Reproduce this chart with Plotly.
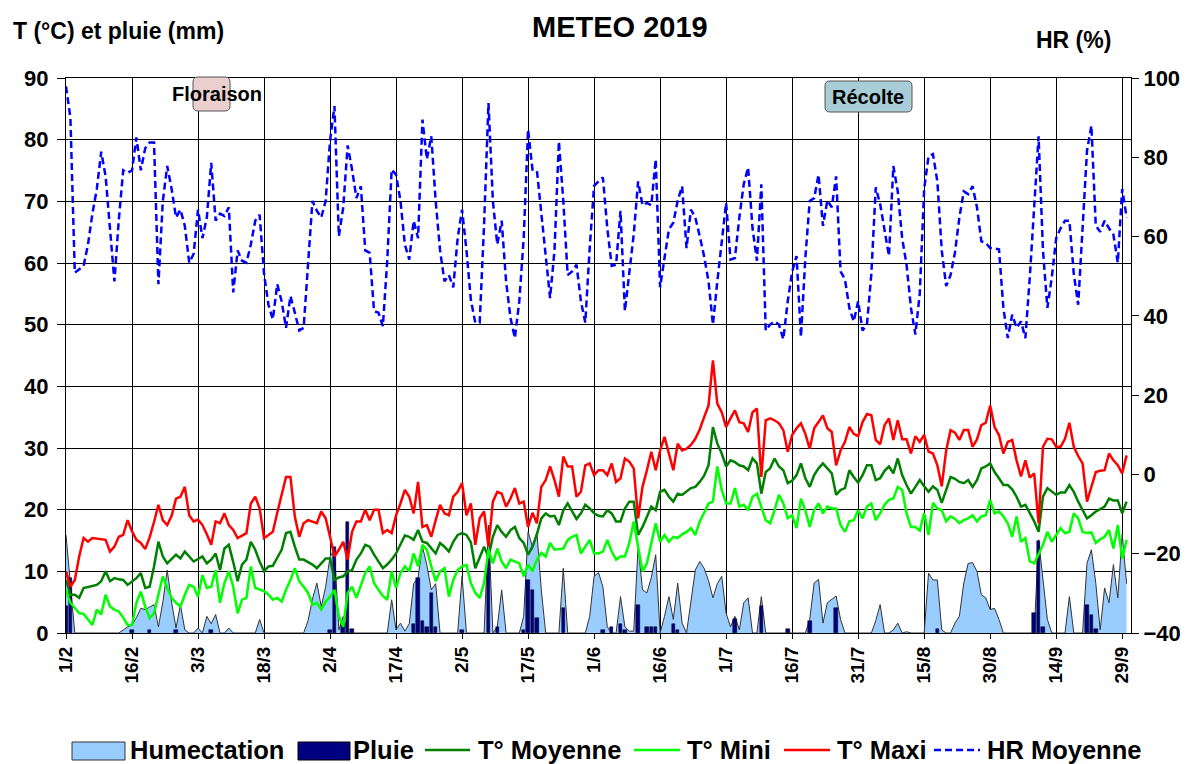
import pandas as pd
import plotly.graph_objects as go

# ---------------- DATA (daily, 1 Feb 2019 -> 30 Sep 2019) ----------------
start_date = "2019-02-01"
n_days = 242

hr_moy = [97.9, 90, 50.9, 51.8, 52.6, 58, 65.8, 72, 81.4, 75.2,
          62.7, 48.7, 64.3, 76.7, 76.1, 76.7, 85, 76.7, 82.3, 83.7,
          83.7, 48, 69, 77.8, 72, 64.8, 66.8, 62.7, 53.4, 55.6,
          66.8, 59.6, 64.8, 78.6, 64, 65.8, 65.2, 67.4, 45.9, 56.5,
          53.9, 53.4, 58, 64, 65.5, 50.6, 42.8, 39.1, 48, 43.7,
          37, 45, 40.8, 36.3, 37, 54, 69, 66.5, 64.8, 69,
          84.2, 92.9, 60.1, 67.4, 83, 76.9, 69.7, 72.7, 56.5, 55.9,
          41.2, 40.8, 37.4, 54, 76.9, 75.6, 69, 58, 54.2, 64,
          59.6, 89.5, 79.5, 85.3, 69, 56.5, 48.7, 50.3, 47.2, 59.6,
          66.8, 56.5, 44, 38.3, 38.3, 63, 93.7, 69, 58, 64,
          48.7, 39.5, 34.4, 43.7, 59.6, 87, 76.9, 76.7, 65.8, 55,
          44.5, 56.5, 84, 69, 50.3, 51.2, 52.9, 43.7, 38.3, 57.1,
          72.8, 73.9, 74.9, 62.1, 52.6, 52.9, 66.5, 41.2, 50.6, 60.5,
          73.9, 67.9, 68.5, 67.9, 79.5, 47.2, 54.6, 61.8, 63.5, 69.1,
          72.7, 57.1, 66.8, 64.8, 60.1, 55, 48.7, 37.8, 48.7, 58.8,
          68.5, 54.2, 54.6, 64.8, 73.2, 77.4, 62.1, 53.9, 73.2, 36.3,
          37.8, 38.6, 37.8, 34.1, 43.7, 51.1, 55.1, 34.7, 54.6, 69,
          69.7, 75.6, 62.7, 69.1, 67.4, 75.2, 51.2, 49.2, 42, 38.6,
          43.7, 36.3, 37.8, 50.6, 72.4, 68.2, 61.2, 55.1, 77.8, 71.4,
          59.6, 52.9, 42, 35.3, 45.6, 72, 80.3, 80.8, 73.9, 56.5,
          47.5, 50.3, 56, 64.8, 71.4, 70.7, 72.7, 67.4, 58.8, 58.4,
          57.1, 57, 56.8, 42, 34.4, 40.3, 37, 38.6, 34.4, 49.7,
          67.4, 85.3, 56.5, 42, 49.7, 59.6, 62.1, 64, 64, 50.6,
          42.8, 63, 81.6, 88, 62.7, 61.2, 64, 62.1, 60.5, 53.4,
          72, 64.8]

t_maxi = [10, 7.5, 8.6, 12.4, 15.4, 14.8, 15.4, 15.3, 15.2, 15.1,
          13.2, 14, 15.6, 15.9, 18.3, 16.5, 15.1, 14.6, 13.6, 15.5,
          18, 20.8, 18.3, 17.5, 19, 21.8, 22.1, 23.7, 19.1, 18.1,
          18.4, 17.5, 16, 14.3, 18.1, 17.8, 19.4, 17.5, 16.7, 15.4,
          15.8, 16.2, 21, 22.1, 20.2, 15.4, 15.9, 16.4, 19.5, 22.5,
          25.3, 25.3, 18.9, 15.6, 17.8, 18.3, 18, 17.8, 19.7, 18.6,
          15.6, 12.4, 13.5, 14.8, 11.9, 16.4, 18.1, 18.1, 20, 18.3,
          20, 20, 16.2, 16.7, 16.2, 19.1, 21, 23.2, 22.1, 19.4,
          24.5, 17.2, 17.5, 15.6, 18.3, 20.8, 19.4, 19.1, 22.1, 22.9,
          24.3, 19.1, 21, 14.3, 18.6, 19.7, 14, 21.3, 22.9, 22.6,
          20.5, 21.8, 23.5, 21, 21.3, 17.2, 19.5, 17.8, 23.7, 24.8,
          27, 24.8, 22.1, 28.6, 27, 27, 22.1, 22.9, 27.2, 27.5,
          25.6, 26.4, 26.4, 25.6, 27.5, 24.5, 25.1, 28.3, 27.8, 26.7,
          18.6, 23.7, 26.4, 29.4, 26.4, 29.6, 31.8, 29.1, 26.4, 30.7,
          29.6, 29.9, 30.5, 31.5, 33, 35, 36.9, 44.2, 37.2, 35.8,
          33.4, 34.8, 36.1, 34.2, 34, 32.6, 35.8, 36.4, 25.3, 34.5,
          34.8, 34.5, 34, 32.9, 29.4, 32.1, 33.2, 34, 32.3, 29.9,
          33.2, 34.2, 35.3, 33.2, 32.6, 27.2, 29.6, 31, 33.4, 32.3,
          31.9, 34.2, 35.5, 35.3, 31.3, 30.6, 33.7, 34.8, 31.3, 34.5,
          31.4, 31.4, 29.1, 31.9, 31, 32.1, 29.4, 29.1, 27.2, 23.8,
          29.6, 32.9, 32.5, 31.3, 32.9, 32.9, 30.2, 31.4, 33.7, 34.1,
          36.9, 33.4, 32.1, 29.1, 31, 31.3, 28, 25.4, 28, 25.2,
          25.9, 17.8, 30.2, 31.5, 31.4, 30.2, 30.2, 31.5, 34.1, 30.2,
          28.7, 27.5, 21.3, 23.7, 26.1, 26.3, 26.4, 29.1, 28, 27.2,
          25.9, 28.8]

t_moyenne = [8.6, 6.2, 6.2, 5.7, 7.3, 7.5, 7.6, 7.8, 8.4, 10,
             8.4, 8.9, 8.7, 8.6, 7.8, 8.3, 8.9, 9.7, 7.3, 7.5,
             10.8, 14.8, 12.4, 11.3, 12, 12.7, 12.1, 13.2, 12.4, 11.6,
             12, 12.4, 11.3, 11.9, 12.9, 10.2, 13.7, 14.3, 11.5, 8.4,
             11.1, 11.9, 14.8, 13.5, 11.6, 10, 10.8, 10.9, 12.2, 13.5,
             16.2, 16.4, 14, 11.9, 11.9, 11.5, 11.1, 10.5, 11.3, 12.1,
             12.1, 8.6, 9, 9.2, 10, 10.2, 11.9, 12.9, 14.3, 14,
             12.7, 11.5, 10.5, 11.1, 11.9, 12.9, 14.3, 15.8, 15.6, 15.1,
             16.7, 14.8, 14.6, 13.7, 12.9, 14.6, 14, 13.2, 14.8, 15.9,
             16.2, 15.9, 14.7, 10.5, 12.4, 14, 12.4, 15.6, 17.5, 16.4,
             15.6, 16.7, 17.2, 15.4, 14.6, 12.7, 14, 16, 18.6, 19.4,
             18.9, 19, 17.5, 19.9, 21, 19.8, 18.5, 19.4, 20.8, 20.2,
             19.4, 19, 18.9, 19.9, 19.4, 18.1, 18.1, 20.2, 21.3, 21.3,
             15.9, 17.2, 18.9, 20.5, 19.9, 22.9, 23.2, 22.1, 21.3, 22.6,
             22.4, 22.9, 23.5, 23.7, 24.5, 25.5, 27.2, 33.4, 30.7, 29.1,
             27, 28, 27.7, 27.2, 27, 26.4, 28.3, 27.5, 22.6, 26.1,
             26.7, 28.3, 27, 26.4, 24.3, 24.7, 25.6, 27.5, 25.1, 23.7,
             25.6, 26.7, 27.5, 26.7, 25.9, 22.4, 23.2, 23.5, 26.4, 25.3,
             24.4, 25.6, 27.2, 27.2, 24.8, 25.1, 26.3, 27, 25.9, 28.3,
             25.6, 24, 22.6, 23.7, 24.8, 23.8, 22.9, 23.8, 23.2, 21.1,
             23.2, 25.3, 25, 24.5, 24.3, 24.8, 23.7, 24.8, 26.7, 27,
             27.5, 26.1, 25.1, 24, 24, 23.3, 22.1, 20.5, 20.8, 19.4,
             18.1, 16.4, 22.1, 23.5, 22.9, 22.4, 22.8, 22.8, 24, 22.9,
             21.3, 20, 18.6, 19.1, 19.7, 20.1, 20.5, 21.8, 21.5, 21.5,
             19.4, 21.3]

t_mini = [7, 4.9, 4.1, 3.2, 3.1, 2.2, 1.3, 3.8, 3, 6.2,
          4.3, 3.8, 3.5, 2.5, 1.3, 1.3, 4.9, 6.7, 4.3, 2.4,
          3.2, 6.2, 9.2, 7.3, 5.7, 4.9, 4.3, 6.2, 7.8, 7.5,
          5.9, 9.4, 7.3, 7.5, 10.2, 4.9, 8.1, 10, 7.5, 3.2,
          5.4, 5.7, 10.8, 7.3, 7, 6.8, 6.2, 5.4, 5.7, 5.1,
          7, 8.6, 10.5, 8.4, 7.5, 6.5, 4.6, 4.9, 3.8, 5.1,
          5.9, 7, 2.7, 1, 6.5, 7.5, 5.7, 7.8, 9.7, 10.8,
          8.1, 7, 6, 5.4, 10, 7.3, 9.7, 10.8, 10, 12.9,
          10.8, 14.3, 13.5, 10.8, 8.4, 10, 10.5, 5.9, 8.6, 10.2,
          10.8, 11, 8.1, 6.5, 5.7, 8.1, 13.5, 11.3, 13.7, 11.6,
          10.5, 11.9, 11.6, 11.3, 9.2, 11.1, 10, 11.9, 13, 12.4,
          14.6, 13.5, 13.6, 13.7, 15.1, 15.6, 15.9, 12.9, 14, 15.1,
          12.9, 12.9, 13.2, 15.1, 13.2, 11.9, 12.4, 12.4, 14.6, 18.1,
          14, 10, 11.3, 14.6, 17.8, 14.8, 15.9, 14.8, 15.6, 15.4,
          16, 16.4, 17, 15.9, 18.1, 19.5, 21, 21.3, 27, 23.2,
          21, 21, 23.5, 20.5, 20.8, 19.9, 22.1, 22.6, 20.5, 18.3,
          17.8, 19.9, 22.4, 21, 18.6, 19.1, 17, 21.8, 19.9, 17.2,
          19.9, 21, 19.4, 20.5, 20.2, 20.2, 17.5, 16.4, 18.1, 18.3,
          19.9, 18.6, 20.5, 21, 18.3, 19.4, 20.8, 21.6, 21.8, 23.7,
          23.2, 19.4, 17.2, 17.2, 16.6, 19.4, 15.9, 21.1, 20.2, 19.9,
          18.1, 18.9, 18.5, 17.8, 18.3, 18.6, 19.1, 18.1, 18.9, 19.1,
          21.6, 19.4, 19.7, 18.9, 17.8, 15.6, 18.9, 14.8, 15.4, 11.6,
          11.3, 12.9, 14.3, 16.4, 14.8, 15.9, 17, 16.2, 16.4, 19.4,
          18.6, 16.4, 16.2, 16.3, 14.6, 15.2, 15.6, 16.7, 13.7, 17.5,
          12.1, 15.1]

humectation = [15.9, 8, 0, 0, 0, 0, 0, 0, 0, 0,
               0, 0, 0, 0.5, 1, 1.3, 2.5, 4, 3.8, 4.2,
               4.6, 1, 5, 10.2, 5, 0.8, 4.6, 0.5, 0, 0,
               0.8, 0, 2.7, 1.5, 3, 0, 0, 0.8, 0, 0,
               0, 0, 0, 0, 2.2, 0, 0, 0, 0, 0,
               0, 0, 0, 0, 0, 2, 5.5, 8.1, 4.3, 7.5,
               12.4, 13.5, 0.5, 2.7, 0, 0, 0, 0, 0, 0,
               0, 0, 0, 0, 5.4, 0.5, 1.6, 0.3, 1.5, 8,
               9, 14, 11, 7, 8, 0, 0, 0, 0, 0,
               9.2, 0, 0, 0, 0, 0, 17.5, 0, 1, 7,
               0, 0, 0, 0, 2.7, 16.4, 14, 16.4, 7, 0,
               0, 0, 0, 10.5, 0, 0, 0, 0, 0, 2.7,
               9.2, 9.8, 7.5, 1, 0, 0, 5.9, 1, 0.3, 0.3,
               14, 7, 6.5, 9, 12.7, 0, 2.7, 5.9, 2.2, 8.1,
               1.6, 0, 4.9, 10.2, 11.6, 10.5, 8.5, 5.7, 8, 9.2,
               3.2, 1, 2.7, 0.5, 4.9, 5.7, 0, 0, 5.9, 0,
               0, 0, 0, 0, 0, 0, 0, 0, 0, 2.2,
               8.1, 8.7, 1.6, 4.9, 5.4, 6, 2.2, 0, 0, 0,
               0, 0, 0, 0, 2, 4.6, 0, 0, 0.5, 1.6,
               0, 0.2, 0, 0, 0, 0, 9.7, 8.6, 8.6, 0.5,
               0, 0, 1.6, 2.7, 8.1, 11.3, 11.4, 10, 6.2, 5.7,
               3.8, 4, 2.2, 0, 0, 0, 0, 0, 0, 0,
               0, 15.1, 8.1, 2.2, 0, 0, 0, 0, 5.9, 0,
               0, 0, 11.3, 13.5, 8.1, 0.5, 7.3, 4.9, 11.1, 5.7,
               16, 8]

# rain (mm): only days with rain, as (day index from 1 Feb, mm)
pluie_jour = [0, 1, 15, 19, 25, 33, 60, 61, 63, 64, 65, 79, 80, 81, 82, 83, 84,
              90, 96, 98, 104, 105, 106, 107, 113, 122, 124, 126, 127, 130,
              132, 133, 134, 138, 139, 152, 158, 164, 169, 175, 198,
              220, 221, 222, 232, 233, 234]
pluie_mm = [4.3, 8.9, 0.5, 0.5, 0.5, 0.5, 0.5, 14, 1.6, 18, 0.6, 1.5, 9, 2, 1, 6.5, 1,
            0.5, 12, 1, 0.5, 8.6, 7, 2.4, 4, 0.5, 1, 1.5, 0.5, 4.6,
            1, 1, 1, 1.5, 0.5, 2.2, 4.3, 0.6, 2, 4, 0.6,
            3.2, 15, 1, 4.6, 3, 0.6]

tick_dates = ["2019-02-01", "2019-02-16", "2019-03-03", "2019-03-18", "2019-04-02",
              "2019-04-17", "2019-05-02", "2019-05-17", "2019-06-01", "2019-06-16",
              "2019-07-01", "2019-07-16", "2019-07-31", "2019-08-15", "2019-08-30",
              "2019-09-14", "2019-09-29"]
tick_labels = ["1/2", "16/2", "3/3", "18/3", "2/4", "17/4", "2/5", "17/5", "1/6",
               "16/6", "1/7", "16/7", "31/7", "15/8", "30/8", "14/9", "29/9"]

# ---------------- FIGURE ----------------
dates = pd.date_range(start_date, periods=n_days, freq="D")
rain_dates = [dates[i] for i in pluie_jour]

OFF = 8                      # page offset of the figure div (body margin)
PW, PH = 1192, 764           # page size
W, H = PW - OFF, PH - OFF    # figure size
L, R, T, B = 66, 1131, 78, 633   # plot area in page pixels
FONT = "Liberation Sans, Arial, sans-serif"


def px(x):
    return (x - L) / (R - L)


def py(y):
    return (B - y) / (B - T)


fig = go.Figure()

fig.add_trace(go.Scatter(x=dates, y=humectation, mode="lines", fill="tozeroy",
                         fillcolor="#99CCFF", line=dict(color="#333333", width=1),
                         name="Humectation", yaxis="y", showlegend=False))
fig.add_trace(go.Scatter(x=dates, y=hr_moy, mode="lines", name="HR Moyenne",
                         line=dict(color="#0000FF", width=2.5, dash="7px,4px"),
                         yaxis="y2", showlegend=False))
fig.add_trace(go.Bar(x=rain_dates, y=pluie_mm, name="Pluie", yaxis="y3",
                     marker=dict(color="#000080", line=dict(color="#000000", width=0.5)),
                     width=0.8 * 86400000, showlegend=False))
fig.add_trace(go.Scatter(x=dates, y=t_moyenne, mode="lines", name="T° Moyenne",
                         line=dict(color="#008000", width=2.5), yaxis="y3", showlegend=False))
fig.add_trace(go.Scatter(x=dates, y=t_mini, mode="lines", name="T° Mini",
                         line=dict(color="#00FF00", width=2.5), yaxis="y3", showlegend=False))
fig.add_trace(go.Scatter(x=dates, y=t_maxi, mode="lines", name="T° Maxi",
                         line=dict(color="#FF0000", width=2.5), yaxis="y3", showlegend=False))

tickfont = dict(family=FONT, size=22, color="black", weight="bold")

fig.update_layout(
    width=W, height=H,
    margin=dict(l=L - OFF, r=W - (R - OFF), t=T - OFF, b=H - (B - OFF), autoexpand=False),
    paper_bgcolor="white", plot_bgcolor="white",
    showlegend=False,
    bargap=0,
    xaxis=dict(type="date", range=["2019-02-01", "2019-10-01"],
               tickvals=tick_dates, ticktext=tick_labels, tickangle=-90,
               tickfont=dict(family=FONT, size=19, color="black", weight="bold"),
               showgrid=True, gridcolor="black", gridwidth=1,
               showline=True, linecolor="black", linewidth=1, mirror=True,
               ticks="outside", ticklen=5, tickcolor="black", zeroline=False),
    yaxis=dict(range=[0, 90], dtick=10, tickfont=tickfont,
               showgrid=True, gridcolor="black", gridwidth=1,
               showline=True, linecolor="black", linewidth=1, mirror=True,
               ticks="outside", ticklen=8, tickcolor="black", zeroline=False,
               ticklabelstandoff=4),
    yaxis2=dict(range=[-40, 100], dtick=20, overlaying="y", side="right",
                tickfont=tickfont, showgrid=False, zeroline=False,
                showline=True, linecolor="black", linewidth=1,
                ticks="outside", ticklen=7, tickcolor="black"),
    yaxis3=dict(range=[0, 90], overlaying="y", visible=False, showgrid=False,
                zeroline=False),
)

annotations = []
shapes = []

# titles
annotations.append(dict(text="<b>METEO 2019</b>", x=px(620), y=py(27), xref="paper",
                        yref="paper", showarrow=False, xanchor="center", yanchor="middle",
                        font=dict(family=FONT, size=29, color="black")))
annotations.append(dict(text="<b>T (°C) et pluie (mm)</b>", x=px(11), y=py(31), xref="paper",
                        yref="paper", showarrow=False, xanchor="left", yanchor="middle",
                        font=dict(family=FONT, size=23, color="black")))
annotations.append(dict(text="<b>HR (%)</b>", x=px(1034), y=py(40), xref="paper",
                        yref="paper", showarrow=False, xanchor="left", yanchor="middle",
                        font=dict(family=FONT, size=23, color="black")))


def rounded_rect(x0, y0, x1, y1, r):
    pts = [
        f"M {px(x0 + r)},{py(y0)}",
        f"L {px(x1 - r)},{py(y0)}",
        f"Q {px(x1)},{py(y0)} {px(x1)},{py(y0 + r)}",
        f"L {px(x1)},{py(y1 - r)}",
        f"Q {px(x1)},{py(y1)} {px(x1 - r)},{py(y1)}",
        f"L {px(x0 + r)},{py(y1)}",
        f"Q {px(x0)},{py(y1)} {px(x0)},{py(y1 - r)}",
        f"L {px(x0)},{py(y0 + r)}",
        f"Q {px(x0)},{py(y0)} {px(x0 + r)},{py(y0)}",
        "Z",
    ]
    return " ".join(pts)


shapes.append(dict(type="path", xref="paper", yref="paper",
                   path=rounded_rect(193, 77, 230, 111, 5),
                   fillcolor="#EBCFCF", line=dict(color="#555555", width=1)))
annotations.append(dict(text="<b>Floraison</b>", x=px(217), y=py(94), xref="paper",
                        yref="paper", showarrow=False, xanchor="center", yanchor="middle",
                        font=dict(family=FONT, size=20, color="black")))
shapes.append(dict(type="path", xref="paper", yref="paper",
                   path=rounded_rect(825, 81, 912, 112, 5),
                   fillcolor="#A9CDD6", line=dict(color="#555555", width=1)))
annotations.append(dict(text="<b>Récolte</b>", x=px(868), y=py(97), xref="paper",
                        yref="paper", showarrow=False, xanchor="center", yanchor="middle",
                        font=dict(family=FONT, size=20, color="black")))

# legend (drawn manually)
ly = 750
legend_font = dict(family=FONT, size=25.5, color="black")
shapes.append(dict(type="rect", xref="paper", yref="paper", x0=px(72), x1=px(125),
                   y0=py(742), y1=py(760), fillcolor="#99CCFF",
                   line=dict(color="#333333", width=1)))
annotations.append(dict(text="<b>Humectation</b>", x=px(128), y=py(ly), xref="paper", yref="paper",
                        showarrow=False, xanchor="left", yanchor="middle", font=legend_font))
shapes.append(dict(type="rect", xref="paper", yref="paper", x0=px(298), x1=px(350),
                   y0=py(742), y1=py(760), fillcolor="#000080",
                   line=dict(color="#000000", width=1)))
annotations.append(dict(text="<b>Pluie</b>", x=px(351), y=py(ly), xref="paper", yref="paper",
                        showarrow=False, xanchor="left", yanchor="middle", font=legend_font))
legend_lines = [(425, 470, "#008000", "solid", "T° Moyenne", 476),
                (634, 680, "#00FF00", "solid", "T° Mini", 685),
                (784, 830, "#FF0000", "solid", "T° Maxi", 835),
                (934, 980, "#0000FF", "7px,4px", "HR Moyenne", 985)]
for x0, x1, col, dash, label, tx in legend_lines:
    shapes.append(dict(type="line", xref="paper", yref="paper", x0=px(x0), x1=px(x1),
                       y0=py(ly), y1=py(ly), line=dict(color=col, width=2.5, dash=dash)))
    annotations.append(dict(text=f"<b>{label}</b>", x=px(tx), y=py(ly), xref="paper",
                            yref="paper", showarrow=False, xanchor="left", yanchor="middle",
                            font=legend_font))

fig.update_layout(annotations=annotations, shapes=shapes)

fig.write_html("out.html")
